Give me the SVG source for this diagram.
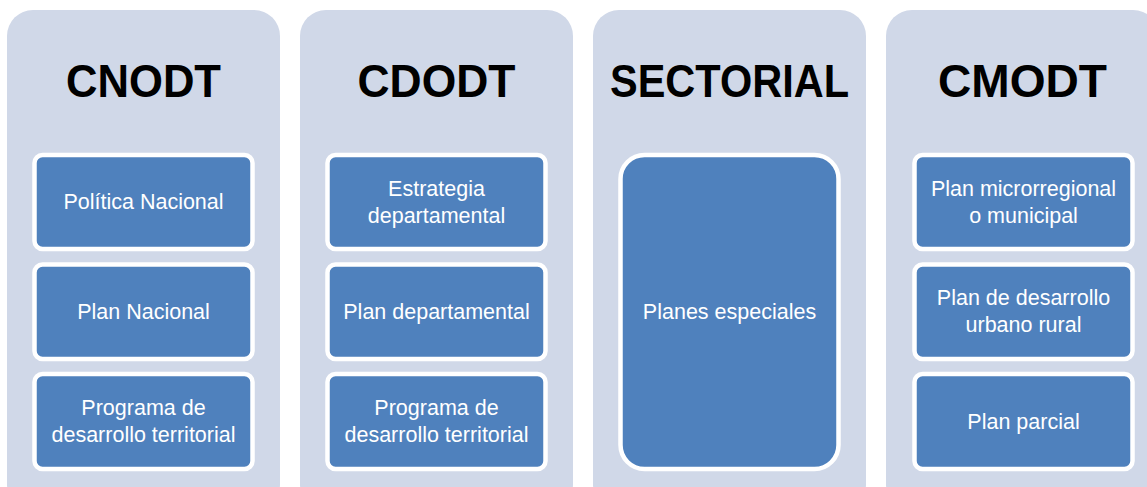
<svg xmlns="http://www.w3.org/2000/svg" width="1147" height="487" viewBox="0 0 1147 487">
<style>
.col{fill:#D0D8E8;}
.box{fill:#4F81BD;stroke:#FFFFFF;stroke-width:4.5;}
.title{font-family:"Liberation Sans",Arial,sans-serif;font-weight:bold;font-size:47px;fill:#000;text-anchor:middle;}
.lbl{font-family:"Liberation Sans",Arial,sans-serif;font-size:21.5px;fill:#FFFFFF;text-anchor:middle;}
</style>
<rect width="1147" height="487" fill="#FFFFFF"/>
<g id="col-cnodt">
<rect class="col" x="7" y="10" width="273" height="500" rx="26"/>
<text class="title" x="143.5" y="97" textLength="155" lengthAdjust="spacingAndGlyphs">CNODT</text>
</g>
<g id="col-cdodt">
<rect class="col" x="300" y="10" width="273" height="500" rx="26"/>
<text class="title" x="436.5" y="97" textLength="158" lengthAdjust="spacingAndGlyphs">CDODT</text>
</g>
<g id="col-sectorial">
<rect class="col" x="593" y="10" width="273" height="500" rx="26"/>
<text class="title" x="729.5" y="97" textLength="239" lengthAdjust="spacingAndGlyphs">SECTORIAL</text>
</g>
<g id="col-cmodt">
<rect class="col" x="886" y="10" width="273" height="500" rx="26"/>
<text class="title" x="1022.5" y="97" textLength="169" lengthAdjust="spacingAndGlyphs">CMODT</text>
</g>
<g id="politica-nacional">
<rect class="box" x="34.5" y="155" width="218" height="94" rx="8"/>
<text class="lbl" x="143.5" y="209">Política Nacional</text>
</g>
<g id="plan-nacional">
<rect class="box" x="34.5" y="264.5" width="218" height="94.5" rx="8"/>
<text class="lbl" x="143.5" y="318.5">Plan Nacional</text>
</g>
<g id="programa-nacional">
<rect class="box" x="34.5" y="374" width="218" height="95" rx="8"/>
<text class="lbl" x="143.5" y="415">Programa de</text>
<text class="lbl" x="143.5" y="442">desarrollo territorial</text>
</g>
<g id="estrategia-departamental">
<rect class="box" x="327.5" y="155" width="218" height="94" rx="8"/>
<text class="lbl" x="436.5" y="195.5">Estrategia</text>
<text class="lbl" x="436.5" y="222.5">departamental</text>
</g>
<g id="plan-departamental">
<rect class="box" x="327.5" y="264.5" width="218" height="94.5" rx="8"/>
<text class="lbl" x="436.5" y="318.5">Plan departamental</text>
</g>
<g id="programa-departamental">
<rect class="box" x="327.5" y="374" width="218" height="95" rx="8"/>
<text class="lbl" x="436.5" y="415">Programa de</text>
<text class="lbl" x="436.5" y="442">desarrollo territorial</text>
</g>
<g id="planes-especiales">
<rect class="box" x="620.5" y="155" width="218" height="314" rx="24"/>
<text class="lbl" x="729.5" y="318.5">Planes especiales</text>
</g>
<g id="plan-microrregional">
<rect class="box" x="914.5" y="155" width="218" height="94" rx="8"/>
<text class="lbl" x="1023.5" y="195.5">Plan microrregional</text>
<text class="lbl" x="1023.5" y="222.5">o municipal</text>
</g>
<g id="plan-desarrollo-urbano">
<rect class="box" x="914.5" y="264.5" width="218" height="94.5" rx="8"/>
<text class="lbl" x="1023.5" y="305">Plan de desarrollo</text>
<text class="lbl" x="1023.5" y="332">urbano rural</text>
</g>
<g id="plan-parcial">
<rect class="box" x="914.5" y="374" width="218" height="95" rx="8"/>
<text class="lbl" x="1023.5" y="428.5">Plan parcial</text>
</g>
<g id="connectors"></g>
</svg>
